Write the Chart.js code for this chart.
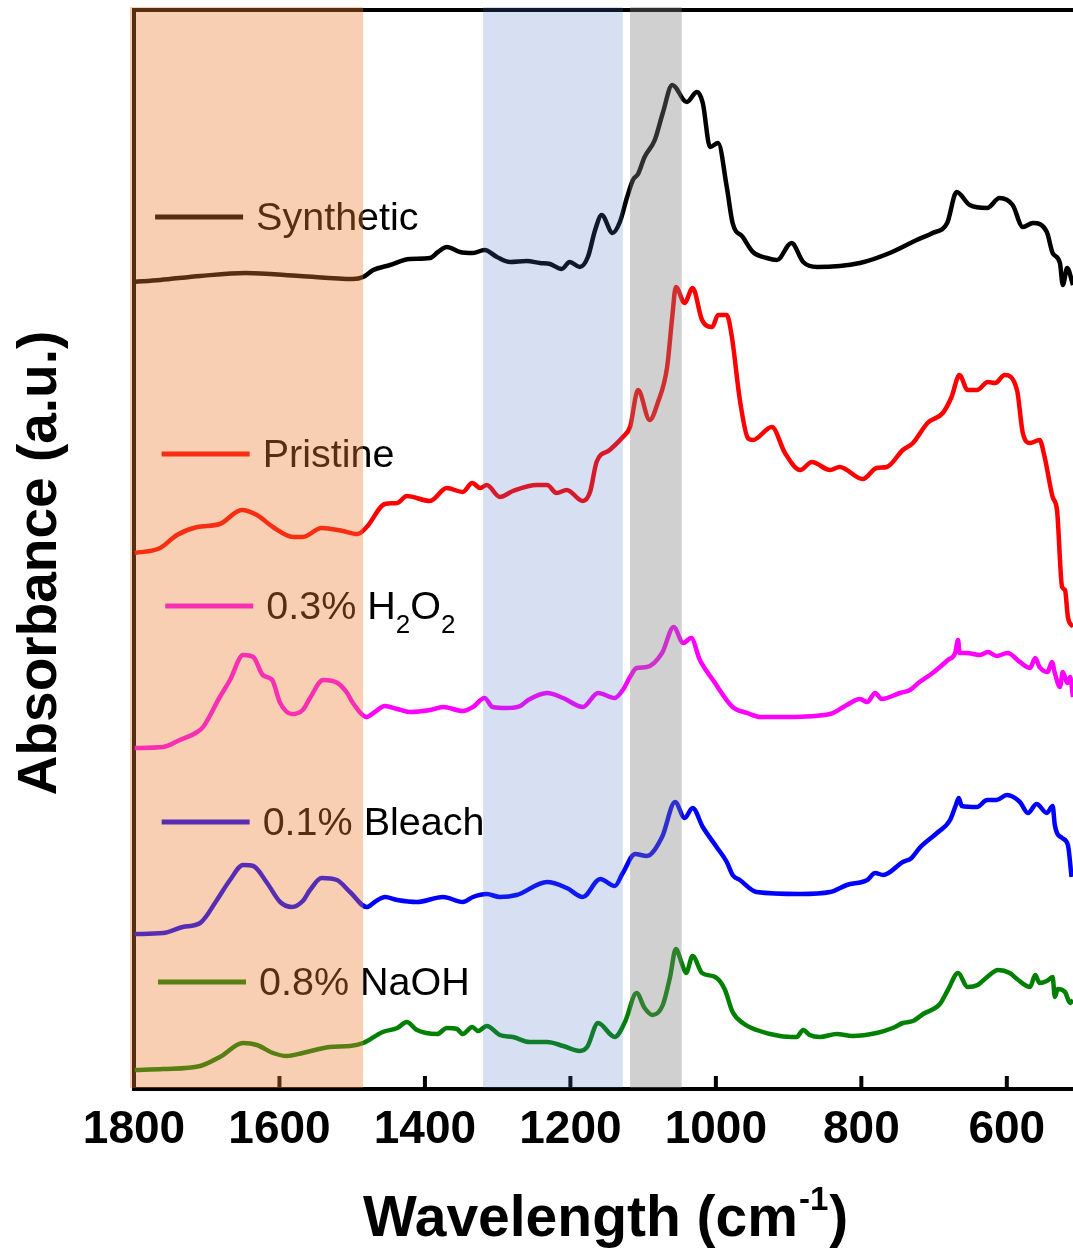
<!DOCTYPE html>
<html>
<head>
<meta charset="utf-8">
<script src="https://cdn.jsdelivr.net/npm/chart.js@4"></script>
<style>
  html, body { margin: 0; padding: 0; background: #fff; overflow: hidden; }
  canvas { display: block; }
</style>
</head>
<body>
<canvas id="ftir" width="1073" height="1249"></canvas>
<script>
// FTIR spectra, stacked with offsets (wavenumber cm-1, absorbance a.u.)
const seriesNames = ['Synthetic', 'Pristine', '0.3% H₂O₂', '0.1% Bleach', '0.8% NaOH'];
const seriesColors = ['#000000', '#ff0000', '#ff00ff', '#0000ff', '#008000'];

const syntheticX = [1800,1764,1709,1647,1572,1499,1485,1471,1448,1421,1393,1382,1370,1352,1334,1318,1301,1283,1260,1242,1228,1212,1201,1187,1176,1166,1157,1142,1132,1122,1114,1107,1098,1084,1073,1060,1040,1026,1018,1008,997,985,977,963,949,930,916,896,880,861,802,761,724,702,682,669,651,627,610,592,578,564,545,537,527,523,517,509];
const syntheticY = [80.7,80.9,81.3,81.6,81.3,81.0,81.2,81.9,82.4,83.0,83.1,83.7,84.2,83.7,83.6,83.9,83.2,82.7,82.8,82.6,82.5,82.0,82.7,82.2,83.2,85.9,87.4,85.6,86.7,89.2,90.9,91.5,93.2,94.9,97.6,100.4,98.7,99.7,98.6,94.2,94.6,90.2,86.6,85.2,83.7,83.1,82.9,84.6,82.7,82.2,82.6,83.6,84.9,85.6,86.6,89.7,88.4,88.1,89.1,88.4,86.2,86.6,85.7,83.6,82.6,80.4,82.1,80.4];

const pristineX = [1799,1764,1741,1713,1682,1652,1631,1609,1581,1568,1542,1513,1493,1480,1455,1438,1425,1393,1370,1348,1335,1324,1315,1297,1279,1246,1232,1219,1205,1183,1173,1164,1146,1128,1118,1107,1091,1080,1067,1060,1055,1043,1032,1019,1005,997,985,978,967,956,949,923,905,884,868,843,830,798,779,765,743,729,709,688,676,665,654,641,626,616,603,586,578,568,555,548,537,531,524,520,516,509];
const pristineY = [53.6,54.1,55.4,56.2,56.5,57.9,57.4,56.2,55.2,55.2,56.1,55.8,55.5,56.2,58.5,58.6,59.3,58.8,60.1,59.7,60.6,60.1,60.4,59.2,59.8,60.4,60.4,59.6,59.9,58.8,59.7,62.7,63.9,65.2,66.2,69.9,66.9,68.6,72.2,77.2,80.2,78.6,80.1,76.9,76.2,77.4,77.4,75.2,68.9,65.1,64.9,66.2,63.6,61.9,62.7,61.9,62.2,61.0,62.1,62.2,63.9,64.6,66.6,67.6,69.2,71.4,69.9,69.9,70.7,70.6,71.4,69.9,65.6,64.6,64.9,63.2,59.2,57.9,50.2,49.9,47.2,46.2];

const peroxideX = [1799,1760,1737,1713,1705,1682,1668,1650,1636,1623,1610,1599,1583,1568,1558,1540,1520,1507,1499,1480,1469,1455,1438,1421,1393,1375,1348,1334,1318,1307,1287,1269,1258,1232,1210,1183,1162,1139,1128,1118,1109,1095,1074,1058,1045,1034,1022,1004,977,957,939,902,843,820,802,792,781,772,747,733,720,702,681,671,667,665,655,637,626,614,599,582,568,561,555,544,538,534,527,523,517,513,509];
const peroxideY = [34.1,34.2,34.9,35.7,36.2,39.2,40.9,43.4,43.2,41.4,40.9,38.6,37.5,37.9,39.1,40.9,40.6,39.6,38.6,37.2,37.7,38.3,38.0,37.7,37.9,38.2,37.8,38.2,39.1,38.2,38.1,38.3,38.9,39.6,39.1,38.2,39.6,39.1,39.9,41.2,42.1,42.2,43.6,46.2,44.6,45.1,42.9,40.9,38.2,37.6,37.2,37.2,37.5,38.4,39.0,38.7,39.6,39.0,39.6,39.9,40.7,41.6,42.9,43.6,44.9,43.6,43.6,43.4,43.7,43.3,43.6,42.7,42.1,43.1,42.2,41.7,42.7,41.6,40.2,41.7,40.6,41.2,39.2];

const bleachX = [1799,1760,1733,1709,1686,1668,1650,1636,1617,1599,1583,1568,1558,1542,1521,1503,1480,1469,1455,1438,1411,1375,1348,1334,1315,1297,1274,1232,1205,1183,1159,1139,1128,1111,1095,1074,1056,1043,1032,1018,999,985,977,967,944,884,843,820,792,781,770,743,731,720,696,678,670,666,662,641,627,614,600,582,571,559,545,537,534,524,516,511];
const bleachY = [15.5,15.6,16.2,16.6,18.9,20.9,22.4,22.3,20.6,18.7,18.2,18.8,19.9,21.1,20.9,19.7,18.2,18.7,19.2,18.9,18.7,19.2,18.7,19.2,19.5,19.2,19.4,20.7,20.1,19.2,21.0,20.3,21.6,23.5,23.3,25.2,28.7,27.1,28.1,26.2,24.2,22.7,21.4,20.9,19.7,19.5,19.7,20.4,20.9,21.6,21.4,22.7,23.1,24.1,25.6,26.9,28.4,29.1,28.3,28.2,28.9,28.9,29.4,28.7,27.6,28.5,27.6,28.3,26.4,25.1,24.4,21.2];

const naohX = [1799,1760,1709,1682,1650,1631,1609,1590,1568,1531,1503,1485,1458,1438,1425,1411,1383,1370,1356,1348,1335,1327,1315,1297,1279,1256,1232,1210,1187,1177,1162,1139,1125,1109,1098,1087,1073,1063,1055,1047,1041,1032,1019,1001,988,977,963,944,912,889,880,871,857,834,812,779,757,743,729,715,692,681,667,654,640,627,612,596,586,568,561,555,545,537,534,530,520,513,509];
const naohY = [1.9,2.0,2.3,3.2,4.6,4.4,3.6,3.3,3.6,4.2,4.3,4.6,5.7,6.1,6.7,5.9,5.5,6.1,6.0,5.5,6.2,5.8,6.3,5.4,5.2,4.7,4.7,4.3,3.8,4.2,6.6,5.2,6.7,9.6,8.1,7.4,8.4,11.2,14.0,12.6,11.6,13.3,11.6,11.2,10.0,7.7,6.6,5.9,5.3,5.2,5.9,5.4,5.2,5.5,5.3,5.6,6.1,6.6,6.8,7.5,8.5,9.9,11.6,10.2,10.4,11.2,11.9,11.6,11.0,10.2,11.4,10.6,10.8,11.2,9.2,10.0,9.7,8.6,8.9];

const xTicks = [1800, 1600, 1400, 1200, 1000, 800, 600];

// shaded bands (wavenumber ranges)
const bandFrom = [1800, 1320, 1118];
const bandTo = [1485, 1128, 1047];
const bandColors = ['rgba(237,125,49,0.37)', 'rgba(68,114,196,0.22)', 'rgba(128,128,128,0.37)'];

// in-plot legend anchors: wavenumber where the key line starts, and its level
const keyWave = [1771, 1762, 1757, 1762, 1767];
const keyLevel = [87.2, 63.5, 48.3, 26.7, 10.7];

const xs = [syntheticX, pristineX, peroxideX, bleachX, naohX];
const ys = [syntheticY, pristineY, peroxideY, bleachY, naohY];

const FONT = '"Liberation Sans", Arial, sans-serif';

const datasets = seriesNames.map((name, i) => ({
  label: name,
  data: xs[i].map((x, j) => ({ x: x, y: ys[i][j] })),
  borderColor: seriesColors[i],
  borderWidth: 4.5,
  pointRadius: 0,
  fill: false,
  cubicInterpolationMode: 'monotone'
}));

function drawLabel(ctx, text, x, y) {
  // draws text, turning unicode subscript digits into small lowered digits
  let cx = x;
  for (const ch of text) {
    const code = ch.charCodeAt(0);
    if (code >= 0x2080 && code <= 0x2089) {
      ctx.font = '26px ' + FONT;
      const d = String(code - 0x2080);
      ctx.fillText(d, cx, y + 14);
      cx += ctx.measureText(d).width;
    } else {
      ctx.font = '39.5px ' + FONT;
      ctx.fillText(ch, cx, y);
      cx += ctx.measureText(ch).width;
    }
  }
}

const decor = {
  id: 'decor',
  beforeDatasetsDraw(chart) {
    const { ctx, chartArea: a, scales: { x } } = chart;
    ctx.save();
    ctx.strokeStyle = '#000';
    ctx.lineWidth = 4;
    ctx.beginPath();
    ctx.moveTo(a.left, a.bottom + 2);
    ctx.lineTo(a.left, a.top);
    ctx.lineTo(a.right + 2, a.top);
    ctx.moveTo(a.left - 2, a.bottom);
    ctx.lineTo(a.right + 2, a.bottom);
    xTicks.forEach(t => {
      const px = x.getPixelForValue(t);
      ctx.moveTo(px, a.bottom);
      ctx.lineTo(px, a.bottom - 13);
    });
    ctx.stroke();
    ctx.restore();
  },
  afterDatasetsDraw(chart) {
    const { ctx, chartArea: a, scales: { x, y } } = chart;
    ctx.save();
    // legend keys and names
    seriesNames.forEach((name, i) => {
      const x0 = x.getPixelForValue(keyWave[i]);
      const y0 = y.getPixelForValue(keyLevel[i]);
      ctx.strokeStyle = seriesColors[i];
      ctx.lineWidth = 5;
      ctx.beginPath();
      ctx.moveTo(x0, y0);
      ctx.lineTo(x0 + 88, y0);
      ctx.stroke();
      ctx.fillStyle = '#000';
      ctx.textBaseline = 'alphabetic';
      drawLabel(ctx, name, x0 + 101, y0 + 13);
    });
    // translucent bands on top
    bandFrom.forEach((w, i) => {
      let l = x.getPixelForValue(w);
      const r = x.getPixelForValue(bandTo[i]);
      if (w >= 1800) l -= 4;
      ctx.fillStyle = bandColors[i];
      ctx.fillRect(l, a.top - 3, r - l, a.bottom - a.top + 2);
    });
    ctx.restore();
  },
  afterDraw(chart) {
    const { ctx } = chart;
    ctx.save();
    ctx.fillStyle = '#000';
    ctx.textBaseline = 'alphabetic';
    // y axis title
    ctx.save();
    ctx.translate(56, 563);
    ctx.rotate(-Math.PI / 2);
    ctx.textAlign = 'center';
    ctx.font = 'bold 55px ' + FONT;
    ctx.fillText('Absorbance (a.u.)', 0, 0);
    ctx.restore();
    // x axis title with superscript
    ctx.textAlign = 'left';
    let cx = 363;
    ctx.font = 'bold 57px ' + FONT;
    ctx.fillText('Wavelength (cm', cx, 1236);
    cx += ctx.measureText('Wavelength (cm').width + 1;
    ctx.font = 'bold 33px ' + FONT;
    ctx.fillText('-1', cx, 1210);
    cx += ctx.measureText('-1').width + 1;
    ctx.font = 'bold 57px ' + FONT;
    ctx.fillText(')', cx, 1236);
    ctx.restore();
  }
};

new Chart(document.getElementById('ftir'), {
  type: 'line',
  data: { datasets },
  options: {
    responsive: false,
    animation: false,
    layout: { padding: { top: 10, right: 0, left: 0, bottom: 0 } },
    plugins: { legend: { display: false }, tooltip: { enabled: false } },
    scales: {
      x: {
        type: 'linear',
        reverse: true,
        min: 509,
        max: 1800,
        afterBuildTicks: s => { s.ticks = xTicks.map(v => ({ value: v })); },
        afterFit: s => { s.height = 160; },
        grid: { display: false, drawTicks: false },
        border: { display: false },
        ticks: {
          color: '#000',
          padding: 14,
          maxRotation: 0,
          autoSkip: false,
          font: { family: FONT, size: 46, weight: 'bold' },
          callback: v => String(v)
        }
      },
      y: {
        min: 0,
        max: 107.9,
        afterFit: s => { s.width = 134; },
        grid: { display: false, drawTicks: false },
        border: { display: false },
        ticks: { display: false }
      }
    }
  },
  plugins: [decor]
});
</script>
</body>
</html>
